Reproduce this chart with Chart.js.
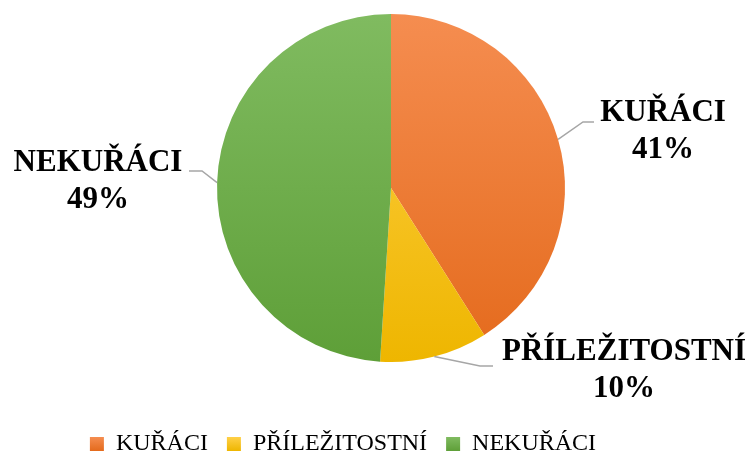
<!DOCTYPE html>
<html lang="cs">
<head>
  <meta charset="UTF-8">
  <title>Kuřáci</title>
  <script src="https://cdn.jsdelivr.net/npm/chart.js"></script>
  <style>
    html, body { margin: 0; padding: 0; background: #fff; }
    canvas { display: block; }
  </style>
</head>
<body>
  <canvas id="chart" width="756" height="455"></canvas>

  <script>
    // data
    const labels = ['KUŘÁCI', 'PŘÍLEŽITOSTNÍ', 'NEKUŘÁCI'];
    const values = [41, 10, 49];

    // vertical gradient per slice (top, bottom)
    const sliceColors = [
      ['#f58d50', '#e46a1c'],
      ['#ffd048', '#eeb600'],
      ['#80bb60', '#5e9f38']
    ];

    // callout layout: elbow of leader line, end of line, text centre and line centres
    const callouts = [
      { elbow: [583, 122], end: [594, 122], x: 663, y1: 111, y2: 148 },
      { elbow: [480, 366], end: [493, 366], x: 624, y1: 350, y2: 387 },
      { elbow: [202, 171], end: [189, 171], x: 98,  y1: 161, y2: 198 }
    ];

    const serif = '"Liberation Serif", "Times New Roman", serif';

    function vGradient(ctx, top, bottom, c) {
      const g = ctx.createLinearGradient(0, top, 0, bottom);
      g.addColorStop(0, c[0]);
      g.addColorStop(1, c[1]);
      return g;
    }

    function sliceFill(context) {
      const i = context.dataIndex;
      const chart = context.chart;
      const area = chart.chartArea;
      if (!area) return sliceColors[i][0];
      return vGradient(chart.ctx, area.top, area.bottom, sliceColors[i]);
    }

    // posune legendu na místo jako v předloze
    const legendShift = {
      id: 'legendShift',
      afterLayout(chart) {
        const lg = chart.legend;
        const dx = -48;
        const dy = 413 - lg.top;
        lg.left += dx; lg.right += dx;
        lg.top += dy; lg.bottom += dy;
      }
    };

    // popisky s čarami
    const calloutPlugin = {
      id: 'callouts',
      afterDatasetsDraw(chart) {
        const ctx = chart.ctx;
        const meta = chart.getDatasetMeta(0);
        const total = values.reduce((a, b) => a + b, 0);
        meta.data.forEach((arc, i) => {
          const c = callouts[i];
          const p = arc.getProps(['x', 'y', 'startAngle', 'endAngle', 'outerRadius'], true);
          const mid = (p.startAngle + p.endAngle) / 2;
          const sx = p.x + Math.cos(mid) * p.outerRadius;
          const sy = p.y + Math.sin(mid) * p.outerRadius;

          ctx.save();
          ctx.strokeStyle = '#a6a6a6';
          ctx.lineWidth = 1.5;
          ctx.beginPath();
          ctx.moveTo(sx, sy);
          ctx.lineTo(c.elbow[0], c.elbow[1]);
          ctx.lineTo(c.end[0], c.end[1]);
          ctx.stroke();

          ctx.fillStyle = '#000';
          ctx.font = 'bold 31px ' + serif;
          ctx.textAlign = 'center';
          ctx.textBaseline = 'alphabetic';
          ctx.fillText(labels[i], c.x, c.y1 + 10);
          ctx.fillText(Math.round(values[i] / total * 100) + '%', c.x, c.y2 + 10);
          ctx.restore();
        });
      }
    };

    new Chart(document.getElementById('chart').getContext('2d'), {
      type: 'pie',
      data: {
        labels: labels,
        datasets: [{
          data: values,
          backgroundColor: sliceFill,
          borderWidth: 0,
          hoverOffset: 0
        }]
      },
      options: {
        responsive: false,
        animation: false,
        layout: { padding: { top: 14, bottom: 40, left: 26, right: 0 } },
        plugins: {
          tooltip: { enabled: false },
          legend: {
            position: 'bottom',
            labels: {
              boxWidth: 14,
              boxHeight: 14,
              padding: 19,
              color: '#000',
              font: { family: serif, size: 24 },
              generateLabels(chart) {
                const items = Chart.overrides.pie.plugins.legend.labels.generateLabels(chart);
                items.forEach((it, i) => {
                  it.fillStyle = vGradient(chart.ctx, 437, 451, sliceColors[i]);
                  it.lineWidth = 0;
                });
                return items;
              }
            }
          }
        }
      },
      plugins: [legendShift, calloutPlugin]
    });
  </script>
</body>
</html>
